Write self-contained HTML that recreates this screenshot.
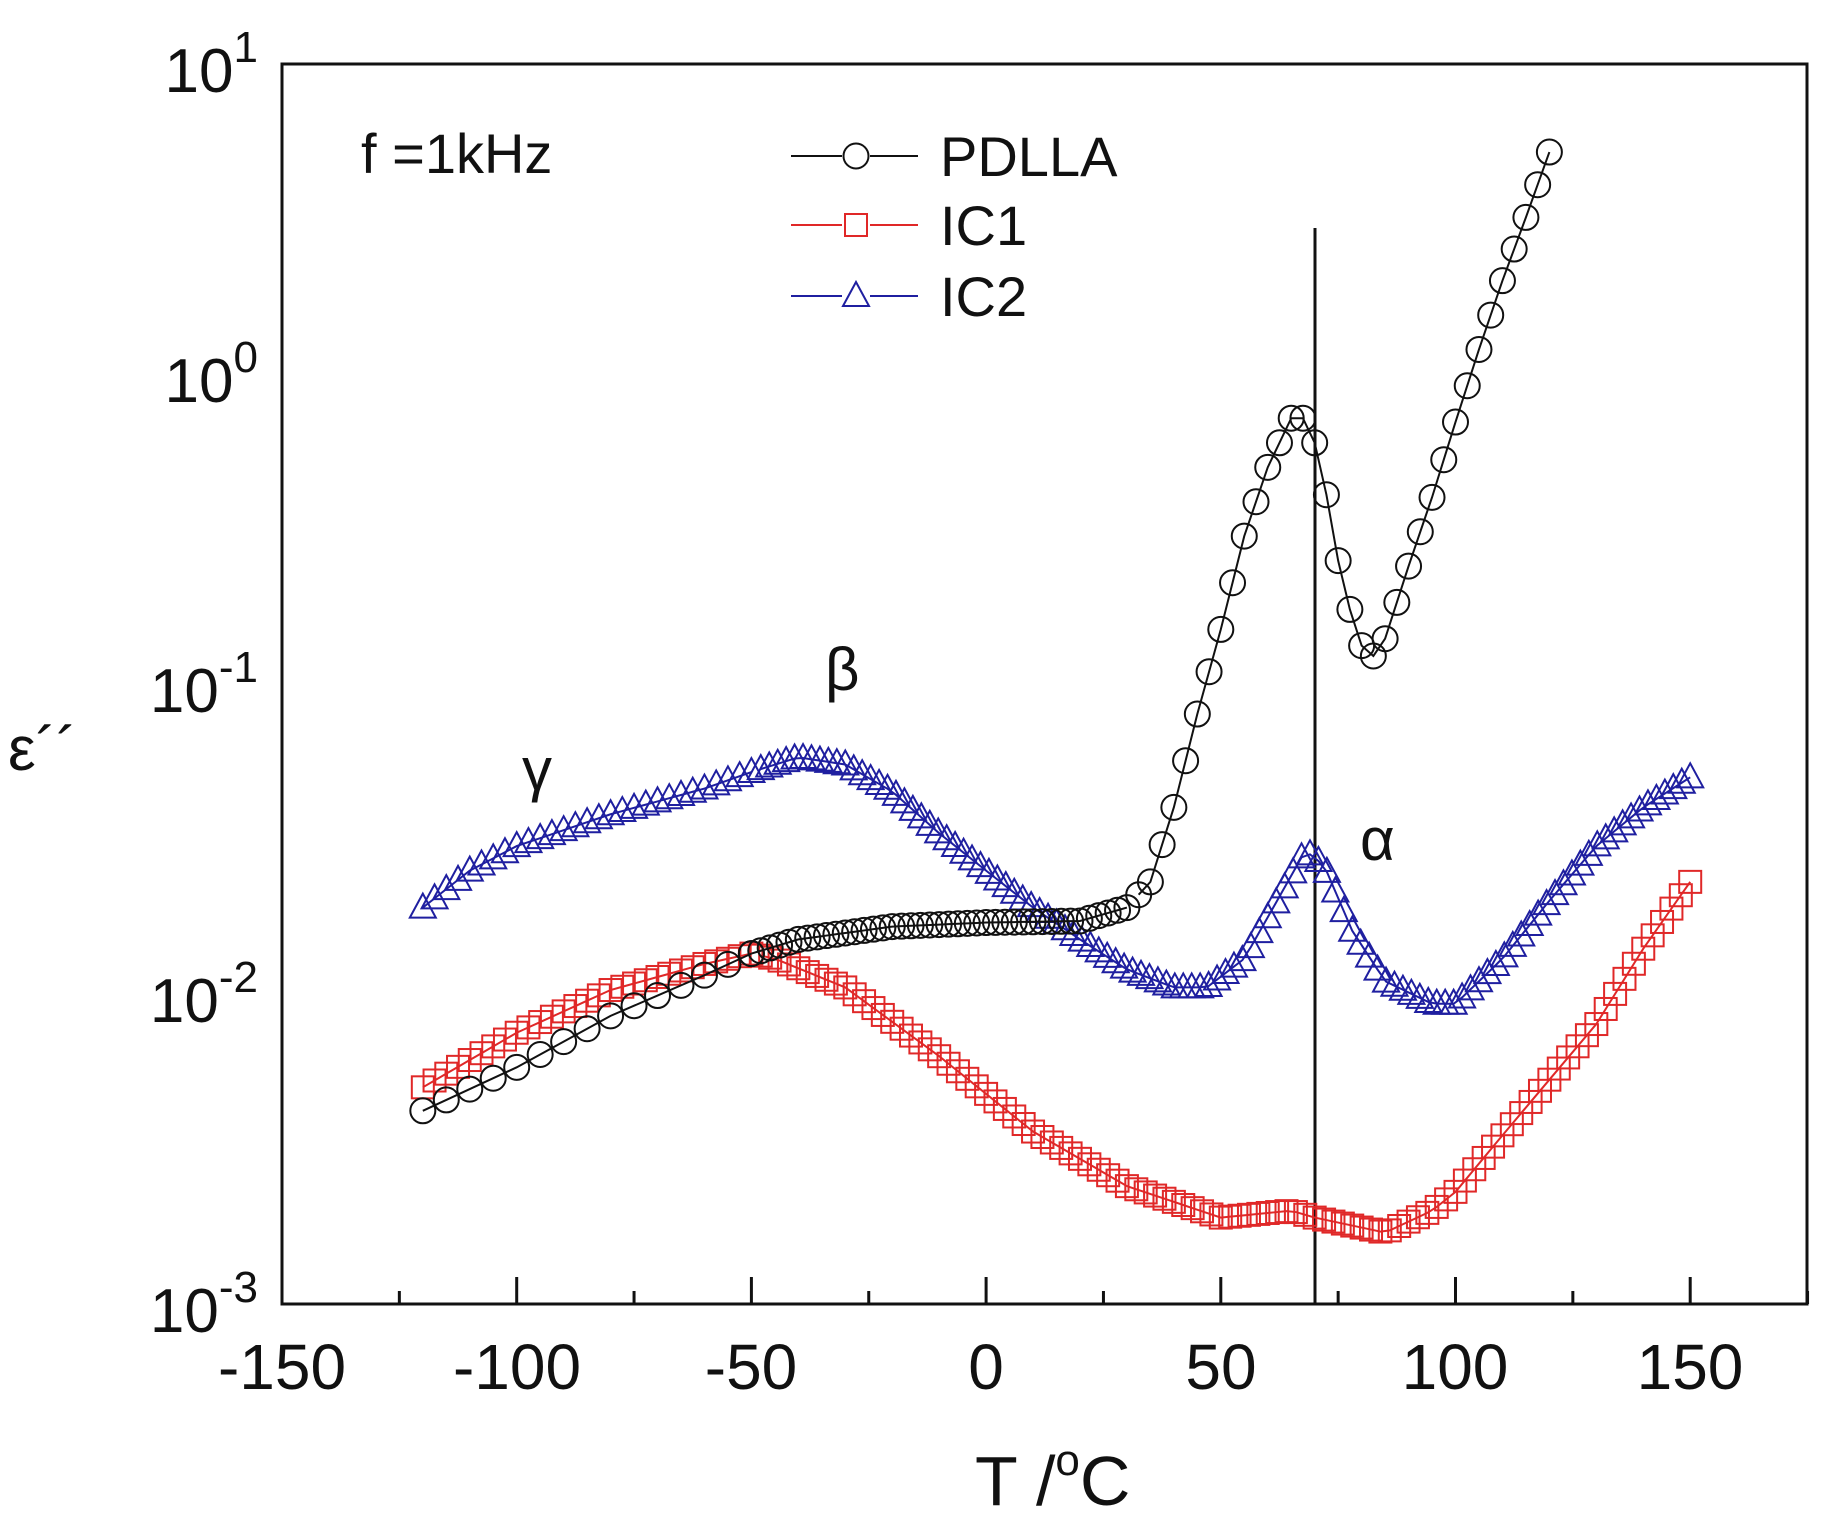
<!DOCTYPE html>
<html><head><meta charset="utf-8"><style>
html,body{margin:0;padding:0;background:#fff}
svg{display:block}
text{font-family:"Liberation Sans",sans-serif;fill:#111}
</style></head><body>
<svg id="s" width="1825" height="1522" viewBox="0 0 1825 1522" xmlns="http://www.w3.org/2000/svg">
<rect x="282" y="64" width="1525" height="1240" fill="none" stroke="#111" stroke-width="3"/>
<g id="ticks" stroke="#111" stroke-width="3"></g>
<g font-size="64" text-anchor="middle">
<text x="282" y="1389">-150</text><text x="517" y="1389">-100</text><text x="751" y="1389">-50</text>
<text x="986" y="1389">0</text><text x="1221" y="1389">50</text><text x="1455" y="1389">100</text><text x="1690" y="1389">150</text>
</g>
<g font-size="62" text-anchor="end">
<text x="258" y="92">10<tspan font-size="44" dy="-30">1</tspan></text>
<text x="258" y="402">10<tspan font-size="44" dy="-30">0</tspan></text>
<text x="258" y="712">10<tspan font-size="44" dy="-30">-1</tspan></text>
<text x="258" y="1022">10<tspan font-size="44" dy="-30">-2</tspan></text>
<text x="258" y="1332">10<tspan font-size="44" dy="-30">-3</tspan></text>
</g>
<text x="975" y="1505" font-size="70">T /<tspan font-size="44" dy="-30">o</tspan><tspan dy="30">C</tspan></text>
<text x="8" y="770" font-size="62">ε´´</text>
<text x="361" y="173" font-size="56">f =1kHz</text>
<text x="522" y="790" font-size="60" font-family="Liberation Serif">γ</text>
<text x="825" y="690" font-size="60" font-family="Liberation Serif">β</text>
<text x="1360" y="860" font-size="60" font-family="Liberation Serif">α</text>
<line x1="1315" y1="228" x2="1315" y2="1304" stroke="#111" stroke-width="3"/>
<g id="data"></g>
<g font-size="56">
<text x="940" y="176">PDLLA</text><text x="940" y="245">IC1</text><text x="940" y="316">IC2</text>
</g>
<g id="leg"></g>
</svg>
<script>
const X=T=>282+(T+150)*4.694, Y=v=>64+(1-Math.log10(v))*310;
let tk='';
for(let T=-125;T<=175;T+=25){const maj=T%50==0;tk+=`<line x1="${X(T)}" y1="1304" x2="${X(T)}" y2="${1304-(maj?27:13)}"/>`;}
document.getElementById('ticks').innerHTML=tk;
function interp(k,T){for(let i=0;i<k.length-1;i++){if(T>=k[i][0]&&T<=k[i+1][0]){const a=k[i],b=k[i+1],t=(T-a[0])/(b[0]-a[0]);return Math.pow(10,Math.log10(a[1])*(1-t)+Math.log10(b[1])*t);}}return k[k.length-1][1];}
const P=[[-120,.0042],[-100,.0058],[-80,.0085],[-60,.0115],[-50,.0135],[-40,.0150],[-20,.0165],[0,.017],[20,.0172],[30,.019],[35,.023],[40,.04],[45,.08],[50,.15],[55,.3],[60,.5],[65,.72],[68,.72],[70,.6],[72,.45],[75,.25],[79,.14],[82,.12],[85,.14],[90,.24],[95,.4],[100,.7],[105,1.2],[110,2],[115,3.2],[120,5.2]];
const R=[[-120,.005],[-100,.0075],[-80,.0103],[-60,.0125],[-50,.0135],[-45,.013],[-30,.0105],[-10,.0063],[10,.0036],[30,.0024],[50,.0019],[65,.002],[70,.0019],[85,.0017],[95,.002],[100,.0023],[110,.0035],[130,.008],[140,.014],[150,.023]];
const B=[[-120,.019],[-110,.025],[-100,.030],[-80,.038],[-60,.046],[-50,.052],[-40,.058],[-30,.055],[-20,.045],[-10,.033],[0,.025],[10,.019],[20,.015],[30,.012],[40,.0105],[47,.0105],[55,.013],[62,.02],[68,.029],[72,.026],[78,.016],[85,.011],[95,.0093],[100,.0093],[110,.013],[120,.02],[130,.03],[140,.04],[150,.05]];
function series(k,T0,T1,step,col,mk){let pts=[],m='';for(let T=T0;T<=T1+1e-6;T+=step){pts.push([X(T),Y(interp(k,T))]);}
let line=`<polyline fill="none" stroke="${col}" stroke-width="2" points="${pts.map(p=>p.join(',')).join(' ')}"/>`;
for(const [x,y] of pts)m+=mk(x,y,col);return line+m;}
const circ=(x,y,c)=>`<circle cx="${x}" cy="${y}" r="12.5" fill="none" stroke="${c}" stroke-width="2"/>`;
const sq=(x,y,c)=>`<rect x="${x-11}" y="${y-11}" width="22" height="22" fill="none" stroke="${c}" stroke-width="2"/>`;
const tri=(x,y,c)=>`<polygon points="${x},${y-14} ${x-13},${y+10} ${x+13},${y+10}" fill="none" stroke="${c}" stroke-width="2"/>`;
let d='';
d+=series(R,-120,-50,2.5,'#e02828',sq)+series(R,-48,150,2,'#e02828',sq);
d+=series(B,-120,-50,2.5,'#1f1fa0',tri)+series(B,-48,150,1.8,'#1f1fa0',tri);
d+=series(P,-120,-50,5,'#111',circ)+series(P,-50,30,2,'#111',circ)+series(P,32.5,120,2.5,'#111',circ);
document.getElementById('data').innerHTML=d;
let l='';
[[156,'#111',circ],[225,'#e02828',sq],[296,'#1f1fa0',tri]].forEach(([y,c,f])=>{l+=`<line x1="791" y1="${y}" x2="918" y2="${y}" stroke="${c}" stroke-width="2"/><rect x="842" y="${y-13}" width="28" height="26" fill="#fff"/>`+f(856,y,c);});
document.getElementById('leg').innerHTML=l;
</script>
</body></html>
